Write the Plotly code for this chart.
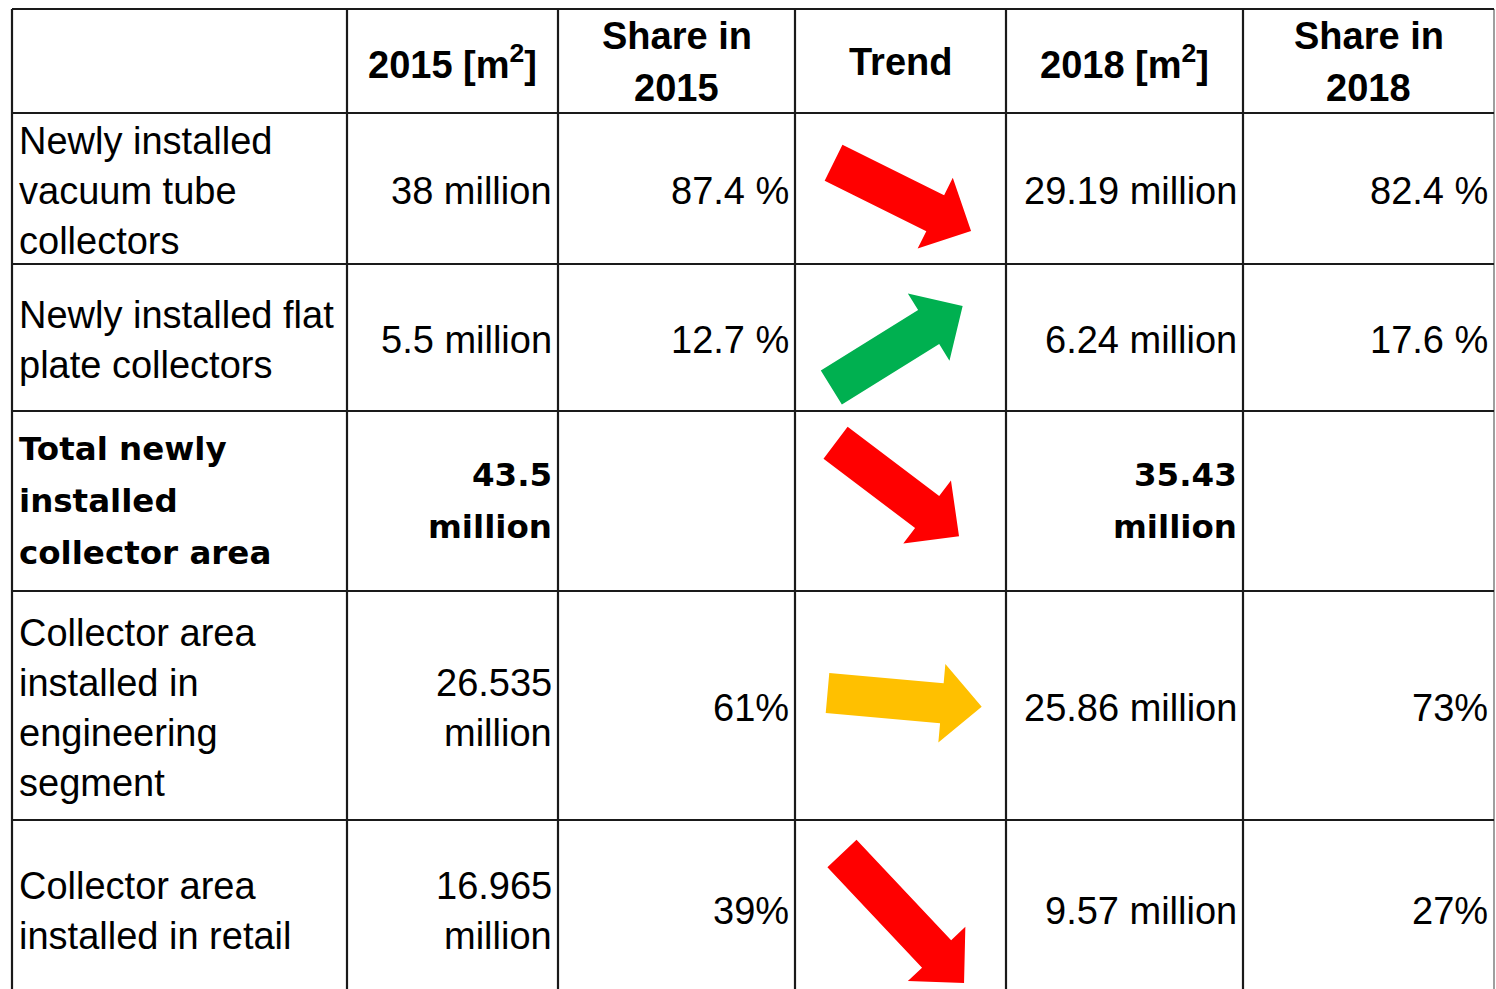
import math
import plotly.graph_objects as go

# ---------------- data ----------------
headers = ["", "2015 [m<sup>2</sup>]", "Share in<br>2015", "Trend", "2018 [m<sup>2</sup>]", "Share in<br>2018"]
row_labels = [
    "Newly installed<br>vacuum tube<br>collectors",
    "Newly installed flat<br>plate collectors",
    "Total newly<br>installed<br>collector area",
    "Collector area<br>installed in<br>engineering<br>segment",
    "Collector area<br>installed in retail",
]
area_2015 = ["38 million", "5.5 million", "43.5<br>million", "26.535<br>million", "16.965<br>million"]
share_2015 = ["87.4 %", "12.7 %", "", "61%", "39%"]
trend_angle_deg = [26.4, -31.8, 37.1, 5.1, 46.7]   # direction of the trend arrow (down-right positive)
area_2018 = ["29.19 million", "6.24 million", "35.43<br>million", "25.86 million", "9.57 million"]
share_2018 = ["82.4 %", "17.6 %", "", "73%", "27%"]
bold_rows = [False, False, True, False, False]

# ---------------- layout / style ----------------
W, H = 1496, 989
col_x = [12, 347, 558, 795, 1006, 1243, 1494]
row_y = [9, 113, 264, 411, 591, 820, 998]
trend_colors = ["#FF0000", "#00B050", "#FF0000", "#FFC000", "#FF0000"]
arrow_offset = [(1.8, 8.4), (-3.5, 9.2), (-3.2, -11.5), (4.1, -5.6), (2.5, 9.3)]
arrow_len = [153.5, 154.5, 154.8, 154.8, 178.0]
SHAFT_W, HEAD_W, HEAD_L = 40, 79, 40

REG = "Liberation Sans, Arial, sans-serif"
BOLD_VERD = "DejaVu Sans, Verdana, sans-serif"
REG_SIZE, REG_GAP = 38, 50
HEAD_SIZE, HEAD_GAP = 38, 52
BOLD_SIZE, BOLD_GAP = 32.5, 52
PAD_L, PAD_R = 5, 4
TEXT_DY = 2

fig = go.Figure()
annotations = []
shapes = []


def add_lines(text, x, yc, anchor, fam, size, gap, bold=False):
    lines = text.split("<br>")
    n = len(lines)
    for i, ln in enumerate(lines):
        y = yc + (i - (n - 1) / 2) * gap
        annotations.append(dict(
            x=x, y=y, xref="x", yref="y", text=("<b>%s</b>" % ln) if bold else ln,
            showarrow=False, xanchor=anchor, yanchor="middle",
            font=dict(family=fam, size=size, color="#000000"),
        ))


# header
hy = (row_y[0] + row_y[1]) / 2 + 1
for c, h in enumerate(headers):
    if not h:
        continue
    xc = (col_x[c] + col_x[c + 1]) / 2
    add_lines(h, xc, hy, "center", REG, HEAD_SIZE, HEAD_GAP, bold=True)

# body rows
for r in range(len(row_labels)):
    yc = (row_y[r + 1] + row_y[r + 2]) / 2 + TEXT_DY
    if bold_rows[r]:
        fam, size, gap, b = BOLD_VERD, BOLD_SIZE, BOLD_GAP, True
        yc -= 2
    else:
        fam, size, gap, b = REG, REG_SIZE, REG_GAP, False
    add_lines(row_labels[r], col_x[0] + PAD_L, yc, "left", fam, size, gap, b)
    for c, vals in ((1, area_2015), (2, share_2015), (4, area_2018), (5, share_2018)):
        if vals[r]:
            add_lines(vals[r], col_x[c + 1] - PAD_R, yc, "right", fam, size, gap, b)

    # trend arrow
    cx = (col_x[3] + col_x[4]) / 2 + arrow_offset[r][0]
    cy = (row_y[r + 1] + row_y[r + 2]) / 2 + arrow_offset[r][1]
    L = arrow_len[r]
    a = math.radians(trend_angle_deg[r])
    local = [(-L / 2, -SHAFT_W / 2), (L / 2 - HEAD_L, -SHAFT_W / 2), (L / 2 - HEAD_L, -HEAD_W / 2),
             (L / 2, 0), (L / 2 - HEAD_L, HEAD_W / 2), (L / 2 - HEAD_L, SHAFT_W / 2),
             (-L / 2, SHAFT_W / 2), (-L / 2, -SHAFT_W / 2)]
    xs = [cx + px * math.cos(a) - py * math.sin(a) for px, py in local]
    ys = [cy + px * math.sin(a) + py * math.cos(a) for px, py in local]
    fig.add_trace(go.Scatter(x=xs, y=ys, mode="lines", fill="toself",
                             fillcolor=trend_colors[r], line=dict(width=0, color=trend_colors[r]),
                             hoverinfo="skip", showlegend=False))

# grid lines
for i, x in enumerate(col_x):
    last = i == len(col_x) - 1
    shapes.append(dict(type="line", xref="x", yref="y", x0=x, x1=x, y0=row_y[0], y1=H + 5,
                       line=dict(color="#7f7f7f" if last else "#1a1a1a", width=1.5 if last else 2.2)))
for y in row_y[:-1]:
    shapes.append(dict(type="line", xref="x", yref="y", x0=col_x[0], x1=col_x[-1], y0=y, y1=y,
                       line=dict(color="#1a1a1a", width=2.2)))

fig.update_layout(
    width=W, height=H,
    margin=dict(l=0, r=0, t=0, b=0),
    paper_bgcolor="white", plot_bgcolor="white",
    xaxis=dict(range=[0, W], visible=False, fixedrange=True),
    yaxis=dict(range=[H, 0], visible=False, fixedrange=True),
    annotations=annotations, shapes=shapes, showlegend=False,
)

fig.write_html(
    "out.html",
    config={"displayModeBar": False},
    post_script="document.body.style.margin='0';document.body.style.overflow='hidden';",
)
